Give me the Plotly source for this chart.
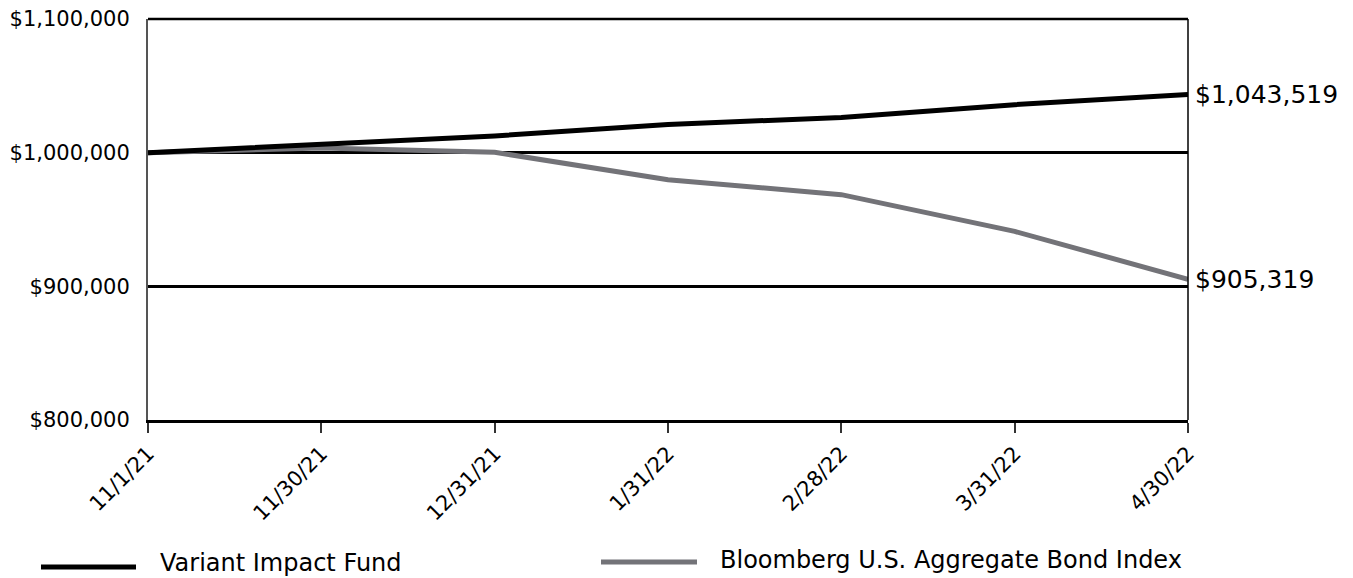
import plotly.graph_objects as go

dates = ["11/1/21", "11/30/21", "12/31/21", "1/31/22", "2/28/22", "3/31/22", "4/30/22"]
fund = [1000000, 1006500, 1012500, 1021000, 1026400, 1035900, 1043519]
bond = [1000000, 1003500, 1000300, 979800, 968600, 941100, 905319]
fund_name = "Variant Impact Fund"
bond_name = "Bloomberg U.S. Aggregate Bond Index"
y_ticks = [800000, 900000, 1000000, 1100000]

FONT = "DejaVu Sans"
GREY = "#737378"

fig = go.Figure()
fig.add_trace(go.Scatter(x=dates, y=bond, mode="lines", name=bond_name,
                         line=dict(color=GREY, width=5)))
fig.add_trace(go.Scatter(x=dates, y=fund, mode="lines", name=fund_name,
                         line=dict(color="black", width=5)))

# end labels
fig.add_annotation(x=dates[-1], y=fund[-1], text="${:,.0f}".format(fund[-1]),
                   showarrow=False, xanchor="left", yanchor="middle", xshift=5,
                   font=dict(family=FONT, size=25, color="black"))
fig.add_annotation(x=dates[-1], y=bond[-1], text="${:,.0f}".format(bond[-1]),
                   showarrow=False, xanchor="left", yanchor="middle", xshift=5,
                   font=dict(family=FONT, size=25, color="black"))

W, H = 1353, 578
L, R, T, B = 148, 1188, 19, 420
pw, ph = R - L, B - T


def px(x):
    return (x - L) / pw


def py(y):
    return (B - y) / ph


# frame lines (top and right)
fig.add_shape(type="line", xref="paper", yref="paper", x0=0, x1=1, y0=1, y1=1,
              line=dict(color="black", width=2.5))
fig.add_shape(type="line", xref="paper", yref="paper", x0=1, x1=1, y0=0, y1=1,
              line=dict(color="black", width=1.5))

# custom legend
fig.add_shape(type="line", xref="paper", yref="paper", x0=px(41), x1=px(136),
              y0=py(567), y1=py(567), line=dict(color="black", width=5))
fig.add_annotation(xref="paper", yref="paper", x=px(158), y=py(563), text=fund_name,
                   showarrow=False, xanchor="left", yanchor="middle",
                   font=dict(family=FONT, size=24, color="black"))
fig.add_shape(type="line", xref="paper", yref="paper", x0=px(601), x1=px(697),
              y0=py(562), y1=py(562), line=dict(color=GREY, width=5))
fig.add_annotation(xref="paper", yref="paper", x=px(718), y=py(560), text=bond_name,
                   showarrow=False, xanchor="left", yanchor="middle",
                   font=dict(family=FONT, size=24, color="black"))

fig.update_layout(
    width=W, height=H,
    margin=dict(l=L, r=W - R, t=T, b=H - B, autoexpand=False),
    paper_bgcolor="white", plot_bgcolor="white",
    showlegend=False,
    xaxis=dict(type="category", range=[0, len(dates) - 1], showgrid=False,
               automargin=False,
               showline=True, linecolor="black", linewidth=3,
               ticks="outside", ticklen=10, tickwidth=1.5, tickcolor="#333",
               tickangle=-45, tickfont=dict(family=FONT, size=21, color="black")),
    yaxis=dict(range=[800000, 1100000], tickvals=y_ticks, tickformat="$,.0f",
               automargin=False,
               showgrid=True, gridcolor="black", gridwidth=2.5,
               showline=True, linecolor="#555", linewidth=2,
               zeroline=False, ticks="", ticklabelstandoff=12,
               tickfont=dict(family=FONT, size=21, color="black")),
)

fig.write_html("out.html")
